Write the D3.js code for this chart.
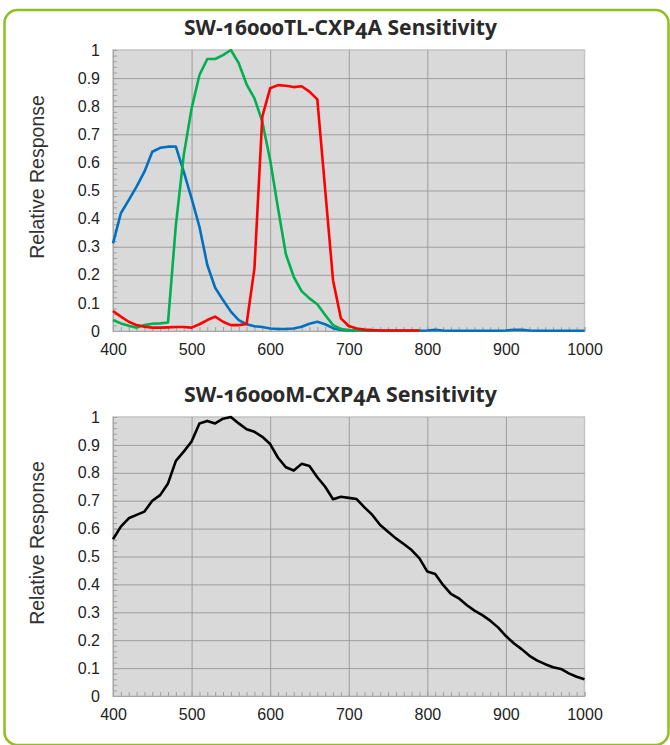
<!DOCTYPE html>
<html>
<head>
<meta charset="utf-8">
<script src="https://cdn.jsdelivr.net/npm/d3@7"></script>
<style>
  body { margin: 0; background: #fff; }
  svg { display: block; }
</style>
</head>
<body>
<div class="sens-plot"></div>
<script>
// wavelengths in nm (10 nm steps)
const wavelengths = [400, 410, 420, 430, 440, 450, 460, 470, 480, 490,
  500, 510, 520, 530, 540, 550, 560, 570, 580, 590,
  600, 610, 620, 630, 640, 650, 660, 670, 680, 690,
  700, 710, 720, 730, 740, 750, 760, 770, 780, 790,
  800, 810, 820, 830, 840, 850, 860, 870, 880, 890,
  900, 910, 920, 930, 940, 950, 960, 970, 980, 990, 1000]

// colour sensor (SW-16000TL) - blue goes to 1000, red/green stop at 790
const blueResponse = [0.312, 0.419, 0.466, 0.514, 0.567, 0.638, 0.652, 0.656, 0.656, 0.567,
  0.472, 0.371, 0.235, 0.154, 0.110, 0.069, 0.039, 0.024, 0.017, 0.014,
  0.009, 0.007, 0.007, 0.009, 0.015, 0.026, 0.033, 0.024, 0.010, 0.004,
  0.002, 0.002, 0.001, 0.001, 0.001, 0.001, 0.001, 0.001, 0.001, 0.001,
  0.002, 0.004, 0.002, 0.001, 0.001, 0.001, 0.001, 0.001, 0.001, 0.001,
  0.002, 0.004, 0.004, 0.002, 0.001, 0.001, 0.001, 0.001, 0.001, 0.001, 0.001]
const greenResponse = [0.039, 0.027, 0.019, 0.012, 0.021, 0.026, 0.027, 0.030, 0.377, 0.626,
  0.792, 0.911, 0.968, 0.968, 0.982, 1.0, 0.953, 0.878, 0.828, 0.745,
  0.608, 0.437, 0.273, 0.193, 0.142, 0.116, 0.095, 0.057, 0.021, 0.007,
  0.003, 0.002, 0.002, 0.001, 0.001, 0.001, 0.001, 0.001, 0.001, 0.001]
const redResponse = [0.071, 0.051, 0.033, 0.021, 0.015, 0.012, 0.012, 0.013, 0.014, 0.014,
  0.012, 0.024, 0.039, 0.051, 0.033, 0.021, 0.021, 0.025, 0.223, 0.763,
  0.864, 0.875, 0.873, 0.868, 0.871, 0.852, 0.824, 0.503, 0.181, 0.045,
  0.018, 0.009, 0.005, 0.003, 0.002, 0.002, 0.002, 0.002, 0.002, 0.002]

// mono sensor (SW-16000M)
const monoResponse = [0.562, 0.607, 0.637, 0.649, 0.661, 0.700, 0.720, 0.762, 0.843, 0.876,
  0.912, 0.977, 0.986, 0.977, 0.994, 1.0, 0.977, 0.956, 0.947, 0.929,
  0.903, 0.854, 0.820, 0.808, 0.832, 0.824, 0.784, 0.750, 0.705, 0.714,
  0.710, 0.706, 0.676, 0.649, 0.613, 0.589, 0.565, 0.545, 0.523, 0.493,
  0.446, 0.437, 0.398, 0.366, 0.350, 0.326, 0.306, 0.290, 0.270, 0.246,
  0.215, 0.189, 0.168, 0.144, 0.127, 0.114, 0.103, 0.097, 0.081, 0.069, 0.060]

const xTicks = [400, 500, 600, 700, 800, 900, 1000]
const yTicks = [0, 0.1, 0.2, 0.3, 0.4, 0.5, 0.6, 0.7, 0.8, 0.9, 1]

const colorTitle = "SW-16000TL-CXP4A Sensitivity"
const monoTitle = "SW-16000M-CXP4A Sensitivity"
const yLabel = "Relative Response"

// layout
const margin = { left: 113, right: 85.5 },
  width = 670 - margin.left - margin.right

const tickFont = "'Liberation Sans', Arial, sans-serif"

const svg = d3.select(".sens-plot")
  .append("svg")
  .attr("width", 670)
  .attr("height", 745)

// green rounded frame
svg.append("rect")
  .attr("x", 4.5)
  .attr("y", 10)
  .attr("width", 664)
  .attr("height", 735)
  .attr("rx", 13)
  .attr("fill", "none")
  .attr("stroke", "#8fbe22")
  .attr("stroke-width", 2.5)

function drawChart(plotTop, plotHeight, title, series) {
  const g = svg.append("g")
    .attr("transform", `translate(${margin.left}, ${plotTop})`)

  const x = d3.scaleLinear().domain([400, 1000]).range([0, width])
  const y = d3.scaleLinear().domain([0, 1]).range([plotHeight, 0])

  // plot background
  g.append("rect")
    .attr("width", width)
    .attr("height", plotHeight)
    .attr("fill", "#d9d9d9")
    .attr("stroke", "#c4c4c4")
    .attr("stroke-width", 1.5)

  // gridlines
  g.append("g")
    .call(d3.axisLeft(y).tickValues(yTicks.slice(1, -1)).tickSize(-width).tickFormat(""))
    .call(s => s.select(".domain").remove())
    .selectAll("line").attr("stroke", "#9d9d9d")
  g.append("g")
    .attr("transform", `translate(0, ${plotHeight})`)
    .call(d3.axisBottom(x).tickValues(xTicks.slice(1, -1)).tickSize(-plotHeight).tickFormat(""))
    .call(s => s.select(".domain").remove())
    .selectAll("line").attr("stroke", "#9d9d9d")

  // minor ticks, inside the plot
  g.append("g")
    .call(d3.axisRight(y).tickValues(y.ticks(50)).tickSize(4).tickFormat(""))
    .call(s => s.select(".domain").attr("stroke", "#a8a8a8"))
    .selectAll("line").attr("stroke", "#a0a0a0")
  g.append("g")
    .attr("transform", `translate(0, ${plotHeight})`)
    .call(d3.axisTop(x).tickValues(x.ticks(60)).tickSize(4).tickFormat(""))
    .call(s => s.select(".domain").attr("stroke", "#a8a8a8"))
    .selectAll("line").attr("stroke", "#a0a0a0")

  // tick labels
  g.append("g")
    .style("font-family", tickFont)
    .style("font-size", "16px")
    .call(d3.axisLeft(y).tickValues(yTicks).tickSize(0).tickPadding(13).tickFormat(d => d))
    .call(s => s.select(".domain").remove())
    .selectAll("text").attr("fill", "#222")
  g.append("g")
    .attr("transform", `translate(0, ${plotHeight})`)
    .style("font-family", tickFont)
    .style("font-size", "16px")
    .call(d3.axisBottom(x).tickValues(xTicks).tickSize(0).tickPadding(13).tickFormat(d => d))
    .call(s => s.select(".domain").remove())
    .selectAll("text").attr("fill", "#222")

  // response curves
  const line = d3.line()
    .x((d, i) => x(wavelengths[i]))
    .y(d => y(d))

  g.selectAll(".curve")
    .data(series)
    .join("path")
    .attr("fill", "none")
    .attr("stroke", d => d.color)
    .attr("stroke-width", 2.6)
    .attr("stroke-linejoin", "round")
    .attr("d", d => line(d.values))

  // title
  svg.append("text")
    .attr("x", 340.5)
    .attr("y", plotTop - 15.5)
    .attr("text-anchor", "middle")
    .attr("textLength", 313)
    .attr("lengthAdjust", "spacingAndGlyphs")
    .style("font-family", "'Noto Sans', 'Open Sans', sans-serif")
    .style("font-weight", "bold")
    .style("font-size", "21px")
    .style("font-variant-numeric", "oldstyle-nums")
    .attr("fill", "#2a2a2a")
    .text(title)

  // y axis label
  svg.append("text")
    .attr("transform", `translate(44, ${plotTop + plotHeight / 2 - 13.5}) rotate(-90)`)
    .attr("text-anchor", "middle")
    .style("font-family", tickFont)
    .style("font-size", "19.5px")
    .attr("fill", "#333")
    .text(yLabel)
}

drawChart(50, 281, colorTitle, [
  { color: "#0070c0", values: blueResponse },
  { color: "#00b050", values: greenResponse },
  { color: "#ff0000", values: redResponse }
])

drawChart(417, 279, monoTitle, [
  { color: "#000000", values: monoResponse }
])
</script>
</body>
</html>
